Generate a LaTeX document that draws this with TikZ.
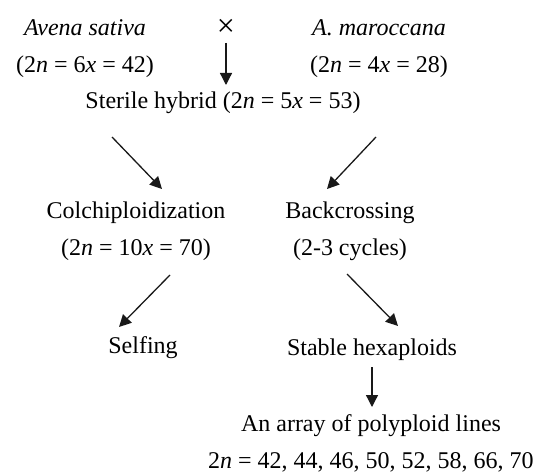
\documentclass[tikz,border=0pt]{standalone}
\usepackage{fontspec}
\setmainfont{Liberation Serif}
\usetikzlibrary{arrows.meta, calc}

\begin{document}
\begin{tikzpicture}[
  x=1pt, y=-1pt,
  >={Triangle[length=12pt, width=12pt]},
  stage/.style={font=\fontsize{24}{37}\selectfont, align=center, inner sep=0pt},
  arr/.style={->, line width=1.3pt, black!90},
]
\useasboundingbox (0,0) rectangle (554,473);

% Parents and cross
\node[stage] (sativa) at (85,49) {\textit{Avena sativa}\\(2\textit{n} = 6\textit{x} = 42)};
\node[stage, font=\fontsize{32}{32}\selectfont] (cross) at (226,28) {×};
\node[stage] (maroc) at (379,49) {\textit{A. maroccana}\\(2\textit{n} = 4\textit{x} = 28)};

\node[stage] (hybrid) at (223,103) {Sterile hybrid (2\textit{n} = 5\textit{x} = 53)};

% Two routes
\node[stage] (colch) at (136,231) {Colchiploidization\\(2\textit{n} = 10\textit{x} = 70)};
\node[stage] (back) at (350,231) {Backcrossing\\(2-3 cycles)};

\node[stage] (self) at (143,348) {Selfing};
\node[stage] (stable) at (372,350) {Stable hexaploids};

\node[stage] (lines) at (371,443) {An array of polyploid lines\\2\textit{n} = 42, 44, 46, 50, 52, 58, 66, 70};

\draw[arr] ($(cross.center)+(0,15)$) -- ($(hybrid.center)+(3,-18)$);
\draw[arr] ($(hybrid.center)+(-111,34)$) -- ($(colch.center)+(26,-42)$);
\draw[arr] ($(hybrid.center)+(153,34)$) -- ($(back.center)+(-23,-42)$);
\draw[arr] ($(colch.center)+(34,44)$) -- ($(self.center)+(-24,-21)$);
\draw[arr] ($(back.center)+(-3,43)$) -- ($(stable.center)+(26,-24)$);
\draw[arr] ($(stable.center)+(0,17)$) -- ($(lines.center)+(1,-36)$);

\end{tikzpicture}
\end{document}
